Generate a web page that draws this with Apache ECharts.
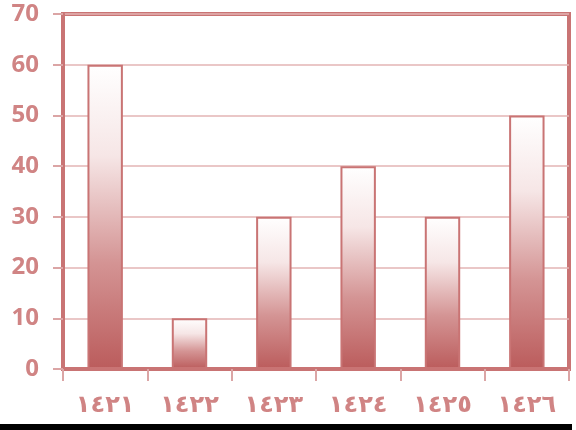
<!DOCTYPE html>
<html>
<head>
<meta charset="utf-8">
<script src="https://cdn.jsdelivr.net/npm/echarts@6/dist/echarts.min.js"></script>
<style>
  html, body { margin: 0; padding: 0; background: #fff; }
  #chart { width: 576px; height: 430px; }
</style>
</head>
<body>
<div id="chart"></div>
<script>
// 数据
var years = ['١٤٢١', '١٤٢٢', '١٤٢٣', '١٤٢٤', '١٤٢٥', '١٤٢٦'];
var values = [60, 10, 30, 40, 30, 50];
var yTicks = [0, 10, 20, 30, 40, 50, 60, 70];

var red = '#c97474';
var textRed = '#d08484';

var myChart = echarts.init(document.getElementById('chart'));
var option = {
  animation: false,
  grid: {
    left: 63,
    right: 7,
    top: 14,
    bottom: 61,
    show: true,
    borderColor: red,
    borderWidth: 4
  },
  xAxis: {
    type: 'category',
    data: years,
    axisLine: { show: true, lineStyle: { color: red, width: 4 } },
    axisTick: { show: true, length: 12, lineStyle: { color: '#dba5a5', width: 2 } },
    axisLabel: {
      margin: 25,
      color: textRed,
      fontFamily: 'DejaVu Sans',
      fontWeight: 'bold',
      fontSize: 24
    }
  },
  yAxis: {
    type: 'value',
    min: yTicks[0],
    max: yTicks[yTicks.length - 1],
    interval: 10,
    axisLine: { show: true, lineStyle: { color: red, width: 4 } },
    axisTick: { show: true, length: 10, lineStyle: { color: '#dba5a5', width: 2 } },
    splitLine: { lineStyle: { color: '#e3b4b4', width: 1.5 } },
    axisLabel: {
      margin: 24,
      color: textRed,
      fontFamily: 'Open Sans',
      fontWeight: 'bold',
      fontSize: 24
    }
  },
  graphic: [
    {
      type: 'rect',
      left: 0,
      top: 424,
      shape: { width: 572, height: 6 },
      style: { fill: '#000' }
    }
  ],
  series: [
    {
      type: 'bar',
      data: values,
      barWidth: '42%',
      itemStyle: {
        borderColor: red,
        borderWidth: 2,
        color: {
          type: 'linear', x: 0, y: 0, x2: 0, y2: 1,
          colorStops: [
            { offset: 0, color: '#ffffff' },
            { offset: 0.3, color: '#f6e6e6' },
            { offset: 0.65, color: '#d49494' },
            { offset: 1, color: '#bb5c5c' }
          ]
        }
      }
    }
  ]
};
myChart.setOption(option);
</script>
</body>
</html>
